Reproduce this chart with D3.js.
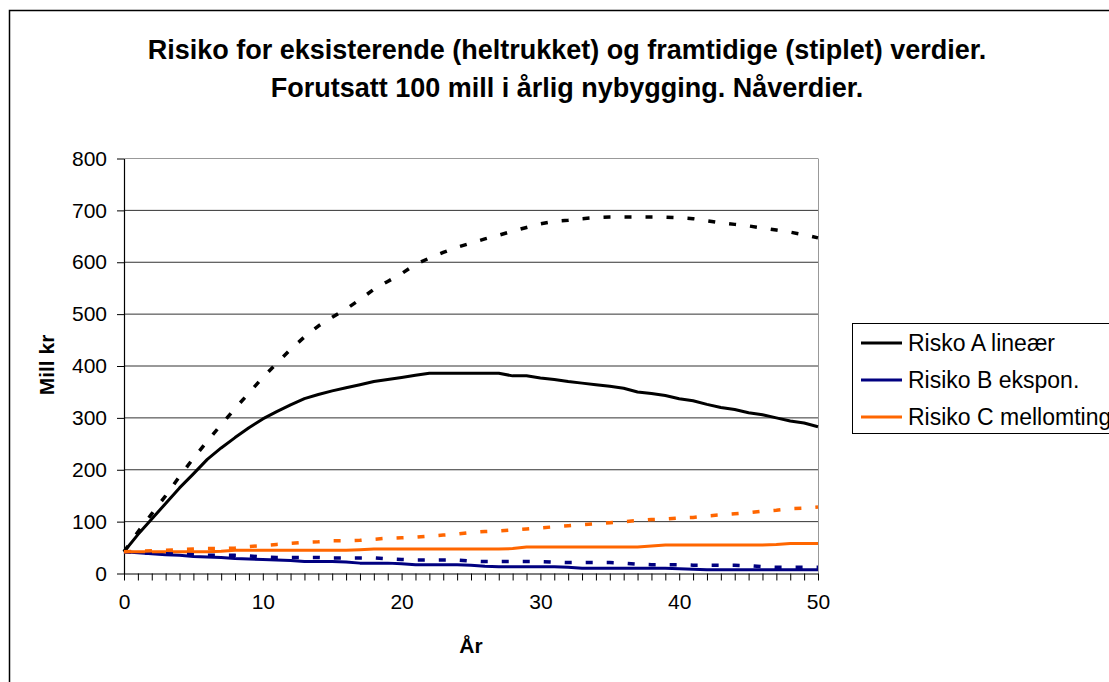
<!DOCTYPE html>
<html lang="no">

<head>
    <meta charset="UTF-8">
    <title>Risiko</title>
    <script src="https://d3js.org/d3.v7.min.js"></script>
    <style>
        body {
            margin: 0;
            background: #fff;
        }

        text {
            font-family: "Liberation Sans", Arial, sans-serif;
            fill: #000;
        }
    </style>
</head>

<body>
    <div id="chart"></div>

    <script>

        // years 0..50
        const years = d3.range(0, 51);

        // existing values (solid lines)
        const riskA = [42, 75, 105, 135, 165, 192, 220, 242, 262, 281, 298, 312, 325, 337, 345, 352, 358, 364, 370, 374,
            378, 382, 386, 386, 386, 386, 386, 386, 381, 381, 377, 374, 370, 367, 364, 361, 357, 350, 347, 343,
            337, 333, 326, 320, 316, 310, 306, 300, 294, 290, 283];
        const riskB = [42, 40, 38, 36, 35, 33, 32, 31, 29, 28, 27, 26, 25, 23, 23, 23, 22, 20, 20, 20,
            19, 17, 17, 17, 17, 16, 14, 13, 13, 13, 13, 13, 12, 10, 10, 10, 10, 10, 10, 10,
            9, 8, 7, 7, 7, 7, 7, 7, 7, 7, 7];
        const riskC = [42, 42, 42, 42, 42, 42, 42, 43, 45, 45, 45, 45, 45, 45, 45, 45, 45, 46, 47, 47,
            47, 47, 47, 47, 47, 47, 47, 47, 48, 51, 51, 51, 51, 51, 51, 51, 51, 51, 53, 55,
            55, 55, 55, 55, 55, 55, 55, 56, 58, 58, 58];

        // future values (dashed lines)
        const futureA = [42, 80, 115, 150, 187, 222, 255, 287, 318, 348, 378, 405, 432, 456, 477, 494, 510, 528, 548, 563,
            578, 596, 608, 619, 629, 637, 645, 652, 660, 667, 674, 679, 681, 684, 686, 687, 687, 687, 687, 687,
            686, 684, 680, 676, 673, 670, 666, 662, 658, 653, 647];
        const futureB = [42, 40, 39, 38, 37, 36, 35, 35, 35, 34, 32, 31, 31, 31, 31, 30, 30, 30, 30, 28,
            27, 26, 26, 26, 26, 24, 23, 23, 23, 23, 23, 22, 21, 21, 21, 21, 20, 18, 17, 17,
            17, 16, 16, 16, 16, 15, 13, 12, 12, 12, 12];
        const futureC = [42, 43, 44, 45, 46, 47, 48, 48, 49, 52, 54, 56, 58, 60, 61, 63, 63, 64, 66, 68,
            69, 70, 72, 74, 76, 79, 81, 82, 84, 86, 88, 90, 92, 94, 96, 98, 100, 102, 104, 105,
            107, 108, 111, 113, 115, 117, 120, 122, 125, 126, 128];

        const legendNames = ["Risko A lineær", "Risiko B ekspon.", "Risiko C mellomting"];
        const titleLines = ["Risiko for eksisterende (heltrukket) og framtidige (stiplet) verdier.",
            "Forutsatt 100 mill i årlig nybygging. Nåverdier."];

        const width = 1109, height = 682;
        const plot = { left: 124, right: 818, top: 158.5, bottom: 573.5 };

        const svg = d3.select("#chart").append("svg")
            .attr("width", width)
            .attr("height", height);

        // outer chart frame (runs off the picture right and bottom)
        svg.append("rect")
            .attr("x", 9.5).attr("y", 10.5)
            .attr("width", 1130).attr("height", 700)
            .attr("fill", "none")
            .attr("stroke", "#000")
            .attr("stroke-width", 1.5);

        const x = d3.scaleLinear().domain([0, 50]).range([plot.left, plot.right]);
        const y = d3.scaleLinear().domain([0, 800]).range([plot.bottom, plot.top]);

        // grid lines
        svg.append("g")
            .selectAll("line")
            .data(d3.range(100, 801, 100))
            .join("line")
            .attr("x1", plot.left).attr("x2", plot.right)
            .attr("y1", d => y(d)).attr("y2", d => y(d))
            .attr("stroke", d => d === 800 ? "#999" : "#333")
            .attr("stroke-width", 1);

        // plot area right edge
        svg.append("line")
            .attr("x1", plot.right + 0.5).attr("x2", plot.right + 0.5)
            .attr("y1", plot.top).attr("y2", plot.bottom)
            .attr("stroke", "#999");

        // axes
        const yAxis = svg.append("g")
            .attr("transform", `translate(${plot.left},0)`)
            .call(d3.axisLeft(y).tickValues(d3.range(0, 801, 100)).tickSize(7).tickPadding(10).tickSizeOuter(0));

        const xAxis = svg.append("g")
            .attr("transform", `translate(0,${plot.bottom})`)
            .call(d3.axisBottom(x).tickValues(years).tickSize(7).tickPadding(14).tickSizeOuter(0)
                .tickFormat(d => d % 10 === 0 ? d : ""));

        [yAxis, xAxis].forEach(a => {
            a.select(".domain").attr("stroke", "#000").attr("stroke-width", 1.2);
            a.selectAll(".tick line").attr("stroke", "#000");
            a.selectAll(".tick text")
                .attr("font-family", "Liberation Sans, Arial, sans-serif")
                .attr("font-size", 21)
                .attr("fill", "#000");
        });

        // series
        const line = d3.line()
            .x((d, i) => x(years[i]))
            .y(d => y(d));

        const series = [
            { values: riskA, color: "#000000", dashed: false },
            { values: riskB, color: "#000080", dashed: false },
            { values: riskC, color: "#FF6600", dashed: false },
            { values: futureA, color: "#000000", dashed: true },
            { values: futureB, color: "#000080", dashed: true },
            { values: futureC, color: "#FF6600", dashed: true }
        ];

        svg.append("g")
            .selectAll("path")
            .data(series)
            .join("path")
            .attr("d", d => line(d.values))
            .attr("fill", "none")
            .attr("stroke", d => d.color)
            .attr("stroke-width", d => d.dashed ? 3.5 : 3)
            .attr("stroke-dasharray", d => d.dashed ? "7,14" : null)
            .attr("stroke-linejoin", "round");

        // title
        svg.append("text")
            .attr("x", 567)
            .attr("text-anchor", "middle")
            .attr("font-size", 27)
            .attr("font-weight", "bold")
            .selectAll("tspan")
            .data(titleLines)
            .join("tspan")
            .attr("x", 567)
            .attr("y", (d, i) => 59 + i * 38)
            .text(d => d);

        // axis titles
        svg.append("text")
            .attr("transform", "translate(54,365) rotate(-90)")
            .attr("text-anchor", "middle")
            .attr("font-size", 21)
            .attr("font-weight", "bold")
            .text("Mill kr");

        svg.append("text")
            .attr("x", 471).attr("y", 653)
            .attr("text-anchor", "middle")
            .attr("font-size", 21)
            .attr("font-weight", "bold")
            .text("År");

        // legend (solid series only)
        const legend = svg.append("g");
        legend.append("rect")
            .attr("x", 852.5).attr("y", 323.5)
            .attr("width", 300).attr("height", 110)
            .attr("fill", "#fff")
            .attr("stroke", "#000")
            .attr("stroke-width", 1);

        const items = legend.selectAll("g.item")
            .data(legendNames)
            .join("g")
            .attr("class", "item")
            .attr("transform", (d, i) => `translate(0,${343 + i * 37})`);

        items.append("line")
            .attr("x1", 861).attr("x2", 902)
            .attr("stroke", (d, i) => series[i].color)
            .attr("stroke-width", 3);

        items.append("text")
            .attr("x", 908).attr("y", 8)
            .attr("font-size", 23)
            .text(d => d);

    </script>
</body>

</html>
